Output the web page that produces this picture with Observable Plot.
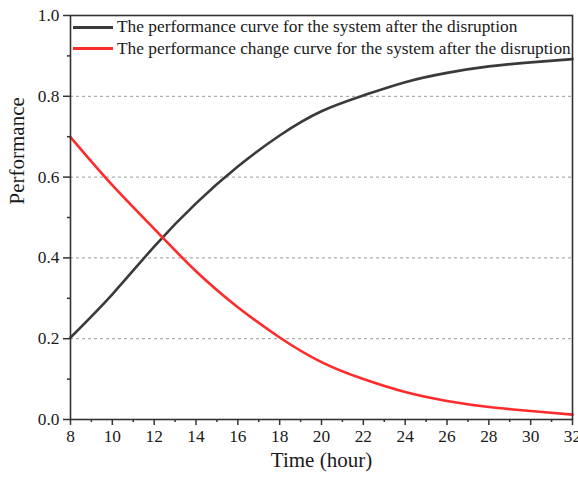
<!DOCTYPE html>
<html>
<head>
<meta charset="utf-8">
<script src="https://cdn.jsdelivr.net/npm/d3@7"></script>
<script src="https://cdn.jsdelivr.net/npm/@observablehq/plot@0.6"></script>
<style>
  html, body { margin: 0; padding: 0; background: #fff; }
  #wrap { position: relative; width: 578px; height: 478px; overflow: hidden; }
  #legend { position: absolute; left: 73px; top: 16.5px; font-family: "Liberation Serif", serif; font-size: 17.33px; color: #1a1a1a; }
  .row { display: flex; align-items: center; height: 21.6px; white-space: nowrap; }
  .sw { display: inline-block; width: 40px; height: 0; border-top: 3px solid; margin-right: 4px; }
</style>
</head>
<body>
<div id="wrap"><div id="legend"></div></div>
<script>
const time = [8, 10, 12, 14, 16, 18, 20, 22, 24, 26, 28, 30, 32];
const performance = [0.203, 0.31, 0.428, 0.535, 0.626, 0.703, 0.763, 0.802, 0.835, 0.858, 0.874, 0.884, 0.892];
const performanceChange = [0.699, 0.58, 0.472, 0.367, 0.278, 0.203, 0.142, 0.10, 0.068, 0.046, 0.031, 0.021, 0.012];
const seriesNames = ["The performance curve for the system after the disruption", "The performance change curve for the system after the disruption"];
const seriesColors = ["#3a3a3a", "#ff2a2a"];
const xTicks = [8, 10, 12, 14, 16, 18, 20, 22, 24, 26, 28, 30, 32];
const xMinor = [9, 11, 13, 15, 17, 19, 21, 23, 25, 27, 29, 31];
const yTicks = [0, 0.2, 0.4, 0.6, 0.8, 1.0];
const yMinor = [0.1, 0.3, 0.5, 0.7, 0.9];
const yGrid = [0.2, 0.4, 0.6, 0.8];

const s1 = time.map((t, i) => ({t, v: performance[i]}));
const s2 = time.map((t, i) => ({t, v: performanceChange[i]}));

const chart = Plot.plot({
  width: 578, height: 478,
  marginLeft: 70, marginRight: 6, marginTop: 15, marginBottom: 59,
  x: {domain: [8, 32]},
  y: {domain: [0, 1]},
  style: {fontFamily: "'Liberation Serif', serif", fontSize: "17.33px", color: "#1a1a1a", background: "#fff"},
  marks: [
    Plot.gridY(yGrid, {stroke: "#999", strokeOpacity: 1, strokeDasharray: "3,3", strokeWidth: 1}),
    Plot.line(s1, {x: "t", y: "v", stroke: seriesColors[0], strokeWidth: 2.6, curve: "natural"}),
    Plot.line(s2, {x: "t", y: "v", stroke: seriesColors[1], strokeWidth: 2.6, curve: "natural"}),
    Plot.frame({stroke: "#333", strokeWidth: 1.6}),
    Plot.axisX({ticks: xTicks, tickSize: 6, tickPadding: 4, label: null, stroke: "#333", strokeWidth: 1.5, fontSize: 17.33}),
    Plot.axisX({ticks: xMinor, tickSize: 3, text: null, label: null, stroke: "#333", strokeWidth: 1.5}),
    Plot.axisY({ticks: yTicks, tickSize: 7, tickPadding: 4, tickFormat: d3.format(".1f"), label: null, stroke: "#333", strokeWidth: 1.5, fontSize: 17.33}),
    Plot.axisY({ticks: yMinor, tickSize: 3, text: null, label: null, stroke: "#333", strokeWidth: 1.5}),
    Plot.text(["Time (hour)"], {frameAnchor: "bottom", dy: 47, fontSize: 21}),
    Plot.text(["Performance"], {frameAnchor: "left", rotate: -90, dx: -53, dy: -13, fontSize: 21})
  ]
});
document.getElementById("wrap").prepend(chart);

const legend = document.getElementById("legend");
seriesNames.forEach((name, i) => {
  const row = document.createElement("div");
  row.className = "row";
  const sw = document.createElement("span");
  sw.className = "sw";
  sw.style.borderColor = seriesColors[i];
  row.appendChild(sw);
  row.appendChild(document.createTextNode(name));
  legend.appendChild(row);
});
</script>
</body>
</html>
